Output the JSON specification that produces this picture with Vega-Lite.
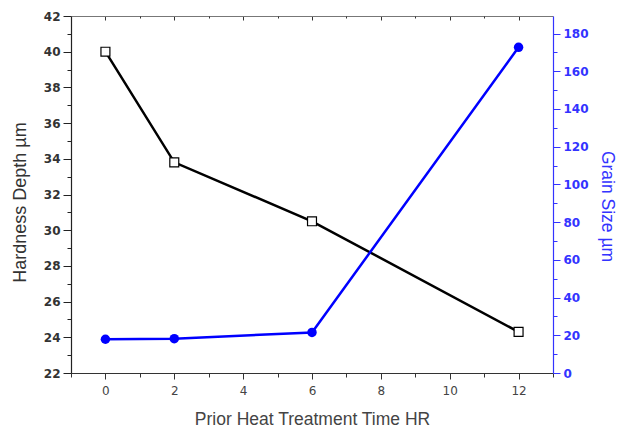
{
  "$schema": "https://vega.github.io/schema/vega-lite/v6.json",
  "width": 482,
  "height": 357,
  "autosize": {"type": "none"},
  "padding": {"left": 71, "top": 16, "right": 71, "bottom": 57},
  "config": {"font": "Liberation Sans", "view": {"stroke": null}},
  "data": {
    "values": [
      {"t": 0, "hardness": 40.0, "grain": 17.9},
      {"t": 2, "hardness": 33.8, "grain": 18.2},
      {"t": 6, "hardness": 30.5, "grain": 21.5},
      {"t": 12, "hardness": 24.3, "grain": 172.7}
    ]
  },
  "layer": [
    {
      "mark": {"type": "line", "color": "#000000", "strokeWidth": 2.5},
      "encoding": {
        "x": {"field": "t", "type": "quantitative", "scale": {"domain": [-1, 13], "nice": false, "zero": false},
          "axis": {"orient": "bottom", "values": [0, 2, 4, 6, 8, 10, 12], "title": "Prior Heat Treatment Time HR", "grid": false,
            "domainColor": "#333333", "domainWidth": 1.2, "tickColor": "#333333", "tickSize": 6, "labelFont": "DejaVu Sans", "labelFontSize": 12, "labelColor": "#444444",
            "labelPadding": 6, "titleFontSize": 17.5, "titleFontWeight": "normal", "titleColor": "#444444", "titlePadding": 14}},
        "y": {"field": "hardness", "type": "quantitative", "scale": {"domain": [22, 42], "nice": false, "zero": false},
          "axis": {"orient": "left", "values": [22, 24, 26, 28, 30, 32, 34, 36, 38, 40, 42], "title": "Hardness Depth µm", "grid": false,
            "domainColor": "#222222", "domainWidth": 1.2, "tickColor": "#222222", "tickSize": 8, "labelFont": "DejaVu Sans", "labelFontSize": 12, "labelFontWeight": "bold", "labelColor": "#333333",
            "labelPadding": 3, "titleFontSize": 18, "titleFontWeight": "normal", "titleColor": "#333333",
            "titleX": -51, "titleY": 186, "titleBaseline": "middle", "titleAlign": "center", "titleAngle": -90}}
      }
    },
    {
      "mark": {"type": "point", "shape": "square", "size": 80, "filled": true, "fill": "#ffffff", "stroke": "#000000", "strokeWidth": 1.2, "opacity": 1},
      "encoding": {
        "x": {"field": "t", "type": "quantitative",
          "axis": {"orient": "bottom", "values": [-1, 1, 3, 5, 7, 9, 11, 13], "labels": false, "title": null, "grid": false, "domain": false, "tickColor": "#333333", "tickSize": 4}},
        "y": {"field": "hardness", "type": "quantitative", "scale": {"domain": [22, 42], "nice": false, "zero": false},
          "axis": {"orient": "left", "values": [23, 25, 27, 29, 31, 33, 35, 37, 39, 41], "labels": false, "title": null, "grid": false, "domain": false, "tickColor": "#222222", "tickSize": 4}}
      }
    },
    {
      "mark": {"type": "line", "color": "#0000ff", "strokeWidth": 2.5},
      "encoding": {
        "x": {"field": "t", "type": "quantitative",
          "axis": {"orient": "top", "values": [0, 2, 4, 6, 8, 10, 12], "labels": false, "title": null, "grid": false, "domainColor": "#777777", "domainWidth": 1.2, "tickColor": "#333333", "tickSize": -4}},
        "y": {"field": "grain", "type": "quantitative", "scale": {"domain": [0, 189.3], "nice": false, "zero": false},
          "axis": {"orient": "right", "values": [0, 20, 40, 60, 80, 100, 120, 140, 160, 180], "title": "Grain Size µm", "grid": false,
            "domainColor": "#3333ff", "domainWidth": 1.2, "tickColor": "#3333ff", "tickSize": 7, "labelFont": "DejaVu Sans", "labelFontSize": 12, "labelFontWeight": "bold", "labelColor": "#3333ff",
            "labelPadding": 3, "titleFontSize": 17.5, "titleFontWeight": "normal", "titleColor": "#3333ff",
            "titleX": 53, "titleY": 190, "titleBaseline": "middle", "titleAlign": "center", "titleAngle": 90}}
      }
    },
    {
      "mark": {"type": "circle", "size": 90, "color": "#0000ff", "opacity": 1},
      "encoding": {
        "x": {"field": "t", "type": "quantitative",
          "axis": {"orient": "top", "values": [1, 3, 5, 7, 9, 11], "labels": false, "title": null, "grid": false, "domain": false, "tickColor": "#333333", "tickSize": -2}},
        "y": {"field": "grain", "type": "quantitative", "scale": {"domain": [0, 189.3], "nice": false, "zero": false},
          "axis": {"orient": "right", "values": [10, 30, 50, 70, 90, 110, 130, 150, 170], "labels": false, "title": null, "grid": false, "domain": false, "tickColor": "#3333ff", "tickSize": 4}}
      }
    }
  ],
  "resolve": {"scale": {"y": "independent"}, "axis": {"x": "independent", "y": "independent"}}
}
